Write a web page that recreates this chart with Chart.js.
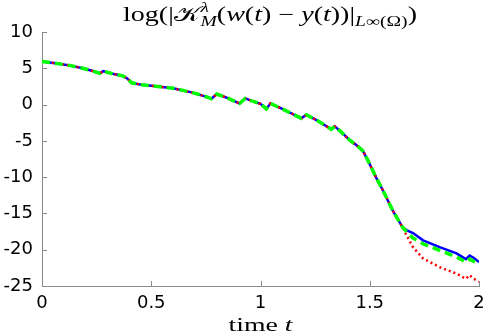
<!DOCTYPE html>
<html>
<head>
<meta charset="utf-8">
<script src="https://cdn.jsdelivr.net/npm/chart.js@4/dist/chart.umd.min.js"></script>
<style>
  html, body { margin: 0; padding: 0; background: #fff; }
  #wrap { width: 486px; height: 335px; }
</style>
</head>
<body>
<div id="wrap"><canvas id="canvas_1"></canvas></div>
<script>
// shared part of the three curves (they coincide until t ~ 1.65)
let tCommon = [0, 0.06, 0.126, 0.187, 0.24, 0.265, 0.28, 0.33, 0.37, 0.39, 0.41, 0.45, 0.5, 0.6, 0.69, 0.76, 0.775, 0.8, 0.85, 0.904, 0.93, 0.96, 1.0, 1.027, 1.045, 1.1, 1.187, 1.21, 1.26, 1.324, 1.34, 1.37, 1.408, 1.44, 1.469, 1.49, 1.53, 1.56, 1.605, 1.65];
let common = [5.95, 5.7, 5.4, 5.0, 4.55, 4.3, 4.6, 4.2, 3.95, 3.6, 3.0, 2.75, 2.6, 2.25, 1.65, 1.0, 0.8, 1.45, 0.9, 0.15, 0.85, 0.5, 0.1, -0.6, 0.15, -0.6, -1.9, -1.4, -2.2, -3.4, -3.0, -3.8, -4.9, -5.6, -6.4, -7.6, -10.1, -11.8, -14.6, -16.9];
// where they split
let tTail = [1.668, 1.698, 1.744, 1.82, 1.897, 1.94, 1.957, 1.975, 2.0];
let blueTail = [-17.3, -17.7, -18.7, -19.65, -20.5, -21.3, -20.8, -21.1, -21.7];
let redTail = [-18.0, -19.65, -21.2, -22.4, -23.3, -24.0, -23.5, -24.0, -24.4];
let greenTail = [-17.5, -18.4, -19.2, -20.1, -21.0, -21.7, -21.3, -21.6, -22.0];
let xTicks = [0, 0.5, 1, 1.5, 2];
let yTicks = [-25, -20, -15, -10, -5, 0, 5, 10];

function points(tail) {
  let t = tCommon.concat(tTail);
  let v = common.concat(tail);
  return t.map(function (x, i) { return { x: x, y: v[i] }; });
}

let axisColor = '#8a8a8a';

// draws a run of [text, font, dy, advance] pieces, stretched to a given width
function drawRun(ctx, parts, cx, base, width) {
  let total = 0;
  parts.forEach(function (p) {
    ctx.font = p[1];
    if (p[3]) total += ctx.measureText(p[0]).width;
  });
  let k = width / total;
  ctx.save();
  ctx.translate(cx - width / 2, base);
  ctx.scale(k, 1);
  let x = 0;
  parts.forEach(function (p) {
    ctx.font = p[1];
    ctx.fillText(p[0], x, p[2]);
    if (p[3]) x += ctx.measureText(p[0]).width;
  });
  ctx.restore();
}

// title, x label and the inward tick marks
let decor = {
  id: 'decor',
  afterDraw: function (chart) {
    let ctx = chart.ctx;
    let area = chart.chartArea;
    let sx = chart.scales.x, sy = chart.scales.y;
    ctx.save();
    ctx.strokeStyle = axisColor;
    ctx.lineWidth = 1;
    ctx.beginPath();
    xTicks.forEach(function (v) {
      let px = Math.round(sx.getPixelForValue(v)) + 0.5;
      ctx.moveTo(px, area.bottom);
      ctx.lineTo(px, area.bottom - 5);
    });
    yTicks.forEach(function (v) {
      let py = Math.round(sy.getPixelForValue(v)) + 0.5;
      ctx.moveTo(area.left, py);
      ctx.lineTo(area.left + 5, py);
    });
    ctx.stroke();

    ctx.fillStyle = '#000';
    ctx.textBaseline = 'alphabetic';
    let serif = '"Liberation Serif", "DejaVu Serif", serif';
    let N = '20px ' + serif, I = 'italic 20px ' + serif, S = '14px ' + serif, SI = 'italic 14px ' + serif;
    let title = [
      ['log(|', N, 0, true],
      ['\uD835\uDCA6', N, 0, true],
      ['\u03BB', SI, -9, false],
      ['M', SI, 5, true],
      ['(', N, 0, true], ['w', I, 0, true], ['(', N, 0, true], ['t', I, 0, true],
      [') \u2212 ', N, 0, true], ['y', I, 0, true], ['(', N, 0, true], ['t', I, 0, true],
      ['))|', N, 0, true],
      ['L', SI, 5, true], ['\u221E(\u03A9)', S, 5, true],
      [')', N, 0, true]
    ];
    drawRun(ctx, title, 270, 21, 294);

    let cx = (area.left + area.right) / 2;
    let N2 = '19px ' + serif, I2 = 'italic 19px ' + serif;
    drawRun(ctx, [['time ', N2, 0, true], ['t', I2, 0, true]], cx, 331, 64);
    ctx.restore();
  }
};

let canvas = document.getElementById('canvas_1');
let ctx = canvas.getContext('2d');
let chart = new Chart(ctx, {
  type: 'line',
  data: {
    datasets: [{
      label: 'blue',
      data: points(blueTail),
      borderColor: '#0000ff',
      borderWidth: 2.5,
      pointRadius: 0,
      fill: false,
      tension: 0,
      order: 3
    }, {
      label: 'red',
      data: points(redTail),
      borderColor: '#ff0000',
      borderWidth: 2.5,
      borderDash: [2, 3],
      pointRadius: 0,
      fill: false,
      tension: 0,
      order: 2
    }, {
      label: 'green',
      data: points(greenTail),
      borderColor: '#00ff00',
      borderWidth: 3.5,
      borderDash: [8, 5],
      pointRadius: 0,
      fill: false,
      tension: 0,
      order: 1
    }]
  },
  options: {
    responsive: true,
    maintainAspectRatio: false,
    animation: false,
    layout: { padding: { top: 32, right: 7, left: 0, bottom: 0 } },
    plugins: {
      legend: { display: false },
      tooltip: { enabled: false }
    },
    scales: {
      x: {
        type: 'linear',
        min: 0,
        max: 2,
        afterBuildTicks: function (s) { s.ticks = xTicks.map(function (v) { return { value: v }; }); },
        afterFit: function (s) { s.height = 49; s.paddingLeft = 0; s.paddingRight = 0; },
        grid: { drawOnChartArea: false, drawTicks: false },
        border: { color: axisColor, width: 1 },
        ticks: {
          color: '#000',
          padding: 7,
          maxRotation: 0,
          callback: function (v) { return String(v); },
          font: { family: '"DejaVu Sans", sans-serif', size: 18 }
        }
      },
      y: {
        min: -25,
        max: 10,
        afterBuildTicks: function (s) { s.ticks = yTicks.map(function (v) { return { value: v }; }); },
        afterFit: function (s) { s.width = 42; s.paddingTop = 0; s.paddingBottom = 0; },
        grid: { drawOnChartArea: false, drawTicks: false },
        border: { color: axisColor, width: 1 },
        ticks: {
          color: '#000',
          padding: 9,
          callback: function (v) { return String(v); },
          font: { family: '"DejaVu Sans", sans-serif', size: 18 }
        }
      }
    }
  },
  plugins: [decor]
});
</script>
</body>
</html>
